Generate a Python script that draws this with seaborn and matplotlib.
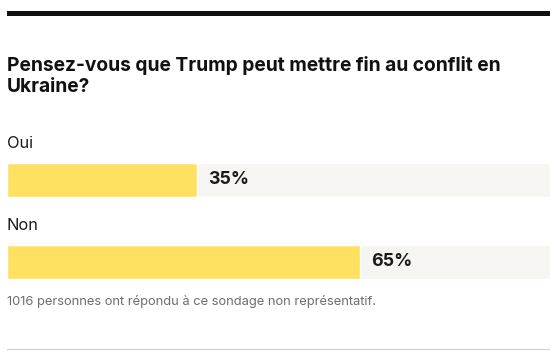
import matplotlib
matplotlib.use("Agg")
import matplotlib.pyplot as plt
import seaborn as sns
import pandas as pd
from matplotlib.patches import Rectangle

categories = ["Oui", "Non"]
values = [35, 65]
value_labels = ["35%", "65%"]
title = "Pensez-vous que Trump peut mettre fin au conflit en\nUkraine?"
note = "1016 personnes ont répondu à ce sondage non représentatif."

sns.set_theme(style="white")
plt.rcParams["font.family"] = ["Inter", "DejaVu Sans"]

W, H = 558, 360
fig = plt.figure(figsize=(W / 100, H / 100), dpi=100)
fig.patch.set_facecolor("white")

def fx(x): return x / W
def fy(y): return 1 - y / H

# axes: category centres at y=180 and y=262 px
left, right = 7, 550
top, bottom = 139, 303
ax = fig.add_axes([fx(left), fy(bottom), fx(right) - fx(left), (bottom - top) / H])

df = pd.DataFrame({"cat": categories, "val": values, "full": [100] * len(values)})
sns.barplot(data=df, y="cat", x="full", color="#F7F5F2", width=0.415, ax=ax,
            orient="h", saturation=1)
sns.barplot(data=df, y="cat", x="val", color="#FFE161", width=0.415, ax=ax,
            orient="h", saturation=1)
ax.set_xlim(0, 100)
ax.set_ylim(1.5, -0.5)
ax.axis("off")

for i, (c, v, lab) in enumerate(zip(categories, values, value_labels)):
    ax.text(0, i - 0.45, c, ha="left", va="center", fontsize=11.8, color="#1a1a1a")
    ax.text(v + 2.0, i, lab, ha="left", va="center", fontsize=12.8,
            fontweight="bold", color="#1a1a1a")

# top black rule
fig.add_artist(Rectangle((fx(7), fy(16)), fx(550) - fx(7), 5 / H,
                         transform=fig.transFigure, color="#111111", lw=0))
# bottom grey rule
fig.add_artist(Rectangle((fx(7), fy(349.5)), fx(550) - fx(7), 1 / H,
                         transform=fig.transFigure, color="#cccccc", lw=0))

fig.text(fx(7), fy(56), title, ha="left", va="top", fontsize=13.8,
         fontweight="bold", color="#111111", linespacing=1.2)
fig.text(fx(7), fy(302), note, ha="left", va="center", fontsize=9.3,
         color="#6e6e6e")

fig.savefig("out.png", dpi=100)
